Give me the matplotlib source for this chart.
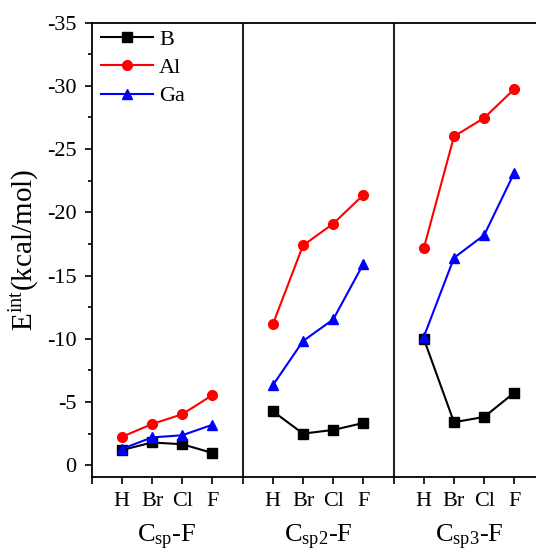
import numpy as np
import matplotlib
matplotlib.use('Agg')
import matplotlib.pyplot as plt
import matplotlib.transforms as mtransforms

plt.rcParams['font.family'] = 'Liberation Serif'
plt.rcParams['mathtext.fontset'] = 'custom'
plt.rcParams['mathtext.rm'] = 'Liberation Serif'
plt.rcParams['mathtext.it'] = 'Liberation Serif:italic'
plt.rcParams['axes.unicode_minus'] = False

# data
halogens = ['H', 'Br', 'Cl', 'F']
groups = [r'C$_{\mathrm{sp}}$-F', r'C$_{\mathrm{sp2}}$-F', r'C$_{\mathrm{sp3}}$-F']

# one list per group (Csp, Csp2, Csp3)
B = [[-1.2, -1.8, -1.66, -0.97],
     [-4.27, -2.5, -2.79, -3.34],
     [-10.0, -3.4, -3.82, -5.74]]
Al = [[-2.24, -3.26, -4.03, -5.55],
      [-11.14, -17.38, -19.1, -21.38],
      [-17.16, -26.0, -27.46, -29.75]]
Ga = [[-1.29, -2.2, -2.37, -3.2],
      [-6.32, -9.82, -11.53, -15.93],
      [-10.15, -16.4, -18.2, -23.14]]

fig = plt.figure(figsize=(5.36, 5.51), dpi=100)
ax = fig.add_axes([0.171, 0.135, 0.845, 0.824])

series = [('B', B, 'black', 's'), ('Al', Al, 'red', 'o'), ('Ga', Ga, 'blue', '^')]
for name, vals, col, mk in series:
    for g in range(3):
        x = np.arange(1, 5) + 5 * g
        ax.plot(x, vals[g], color=col, marker=mk, ms=7, lw=1.5,
                label=name if g == 0 else None)

# panel dividers
for xb in [5, 10]:
    ax.axvline(xb, color='#222222', lw=1.5)

ax.set_xlim(0, 15)
ax.set_ylim(0.9, -35)

ticks = np.arange(0, 16)
labels = ['' if t % 5 == 0 else halogens[t % 5 - 1] for t in ticks]
ax.set_xticks(ticks)
ax.set_xticklabels(labels, fontsize=16)
ax.set_yticks(np.arange(0, -36, -5))
ax.set_yticklabels([str(v) for v in range(0, -36, -5)], fontsize=16)
ax.set_yticks(np.arange(-2.5, -35, -5), minor=True)
ax.tick_params(axis='both', which='major', direction='out', length=5, width=1.2, pad=6)
ax.tick_params(axis='y', which='minor', direction='out', length=3, width=1.2)
ax.tick_params(top=False, right=False)
for s in ax.spines.values():
    s.set_linewidth(1.3)

# group labels under each panel
trans = mtransforms.blended_transform_factory(ax.transData, ax.transAxes)
for g, lab in enumerate(groups):
    ax.text(2.5 + 5 * g, -0.1445, lab, transform=trans, ha='center', va='baseline', fontsize=19)

ax.set_ylabel(r'E$^{\mathrm{int}}$(kcal/mol)', fontsize=21)
ax.yaxis.set_label_coords(-0.11, 0.5)

ax.legend(loc='upper left', bbox_to_anchor=(0.007, 1.0), frameon=False, fontsize=16,
          handlelength=2.3, borderaxespad=0, borderpad=0.3, labelspacing=0.35,
          handletextpad=0.3)

fig.savefig('out.png', dpi=100)
